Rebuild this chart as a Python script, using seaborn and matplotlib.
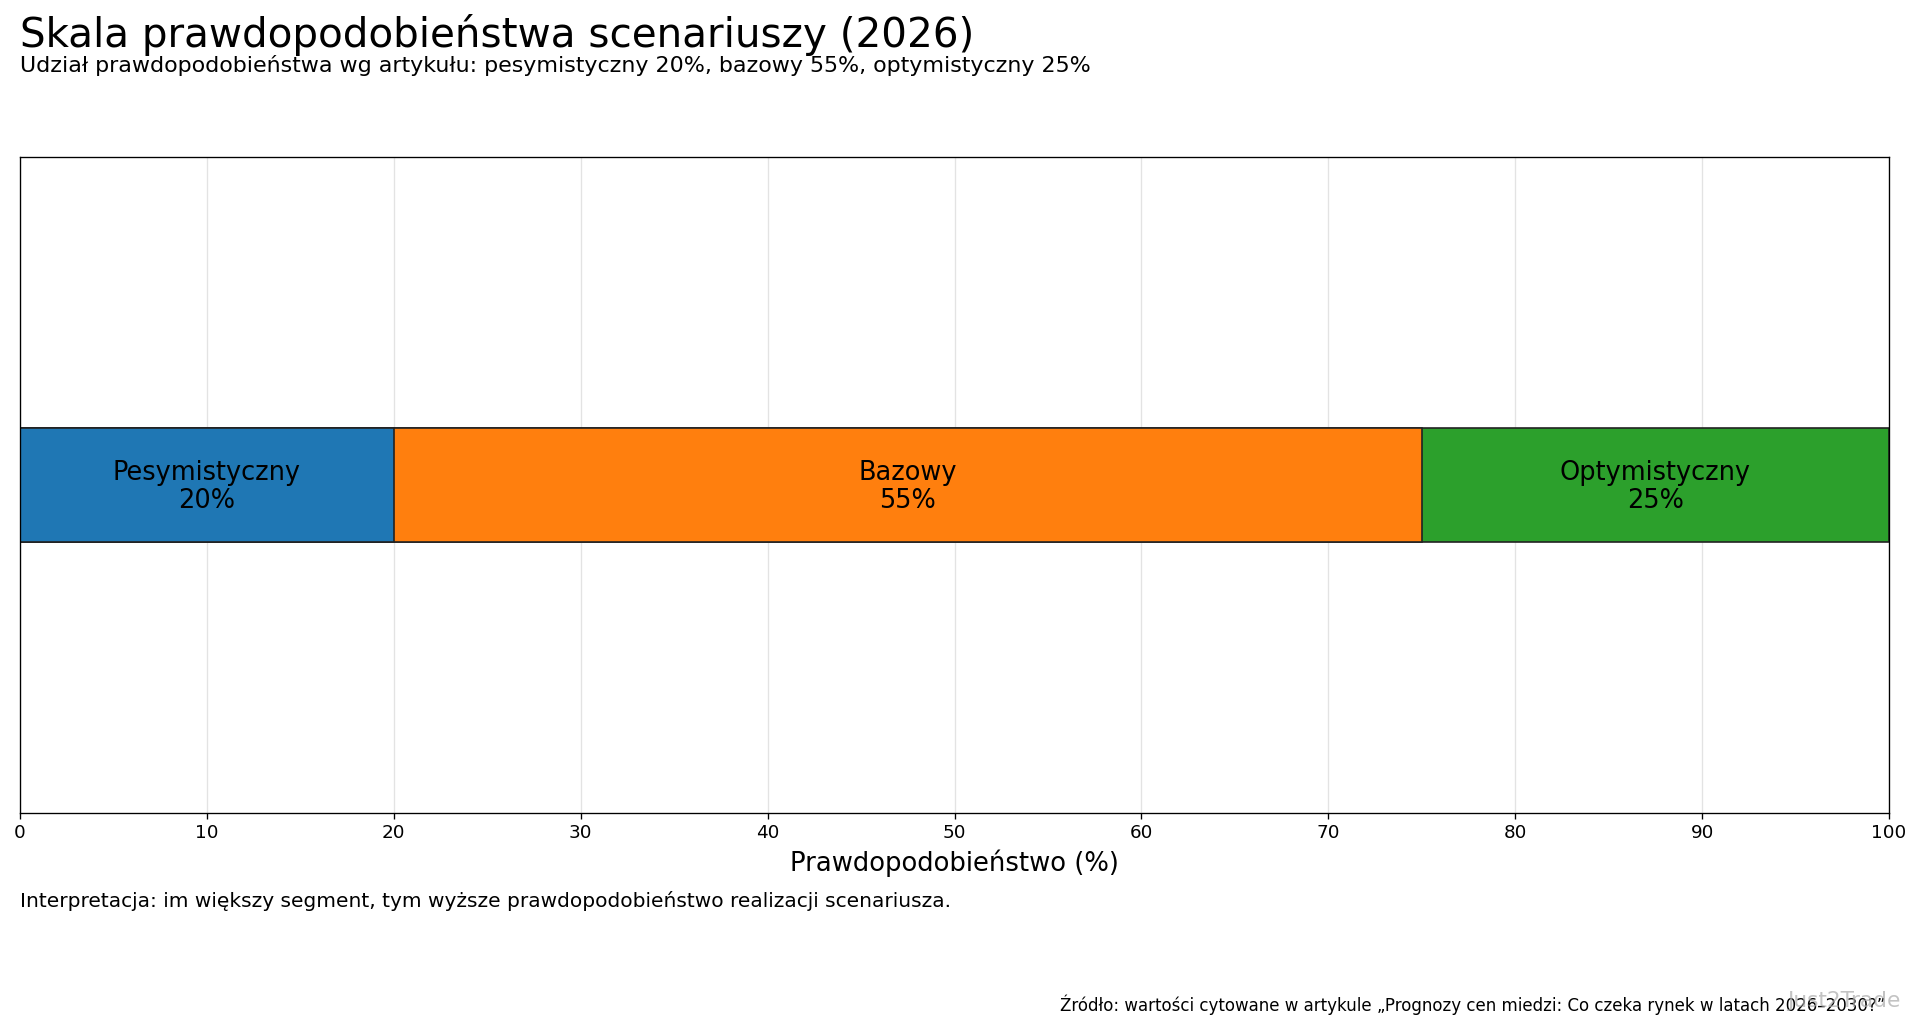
import numpy as np
import seaborn as sns
import matplotlib.pyplot as plt

scenarios = ["Pesymistyczny", "Bazowy", "Optymistyczny"]
shares = [20, 55, 25]
colors = ["#1f77b4", "#ff7f0e", "#2ca02c"]

title = "Skala prawdopodobieństwa scenariuszy (2026)"
subtitle = "Udział prawdopodobieństwa wg artykułu: pesymistyczny 20%, bazowy 55%, optymistyczny 25%"
note = "Interpretacja: im większy segment, tym wyższe prawdopodobieństwo realizacji scenariusza."
source = "Źródło: wartości cytowane w artykule „Prognozy cen miedzi: Co czeka rynek w latach 2026–2030?”"

ends = np.cumsum(shares)
starts = ends - np.array(shares)

fig = plt.figure(figsize=(16, 1034 / 120), dpi=120)
ax = fig.add_axes([0.0104, 0.214, 0.9735, 0.634])

# stacked bar: draw cumulative totals back to front
for i in reversed(range(len(scenarios))):
    sns.barplot(x=[ends[i]], y=["2026"], orient="h", color=colors[i],
                saturation=1, width=0.5, edgecolor="#222222", linewidth=1.0, ax=ax)

for name, s, e, v in zip(scenarios, starts, ends, shares):
    ax.text((s + e) / 2, 0.01, f"{name}\n{v}%", ha="center", va="center",
            fontsize=15.4, color="black", linespacing=1.1)

ax.set_xlim(0, 100)
ax.set_ylim(1.44, -1.44)
ax.set_xticks(range(0, 101, 10))
ax.set_yticks([])
ax.set_ylabel("")
ax.set_xlabel("Prawdopodobieństwo (%)", fontsize=15.5)
ax.tick_params(axis="x", labelsize=11)
ax.grid(axis="x", color="#e3e3e3", linewidth=0.8)
ax.set_axisbelow(True)

fig.text(0.0104, 0.986, title, fontsize=24.3, ha="left", va="top")
fig.text(0.0104, 0.947, subtitle, fontsize=13.3, ha="left", va="top")
fig.text(0.0104, 0.138, note, fontsize=12.1, ha="left", va="top")
fig.text(0.982, 0.018, source, fontsize=10, ha="right", va="bottom")
fig.text(0.99, 0.022, "Just2Trade", fontsize=13, ha="right", va="bottom",
         color="#aaaaaa", alpha=0.7)

fig.savefig("out.png", dpi=120)
